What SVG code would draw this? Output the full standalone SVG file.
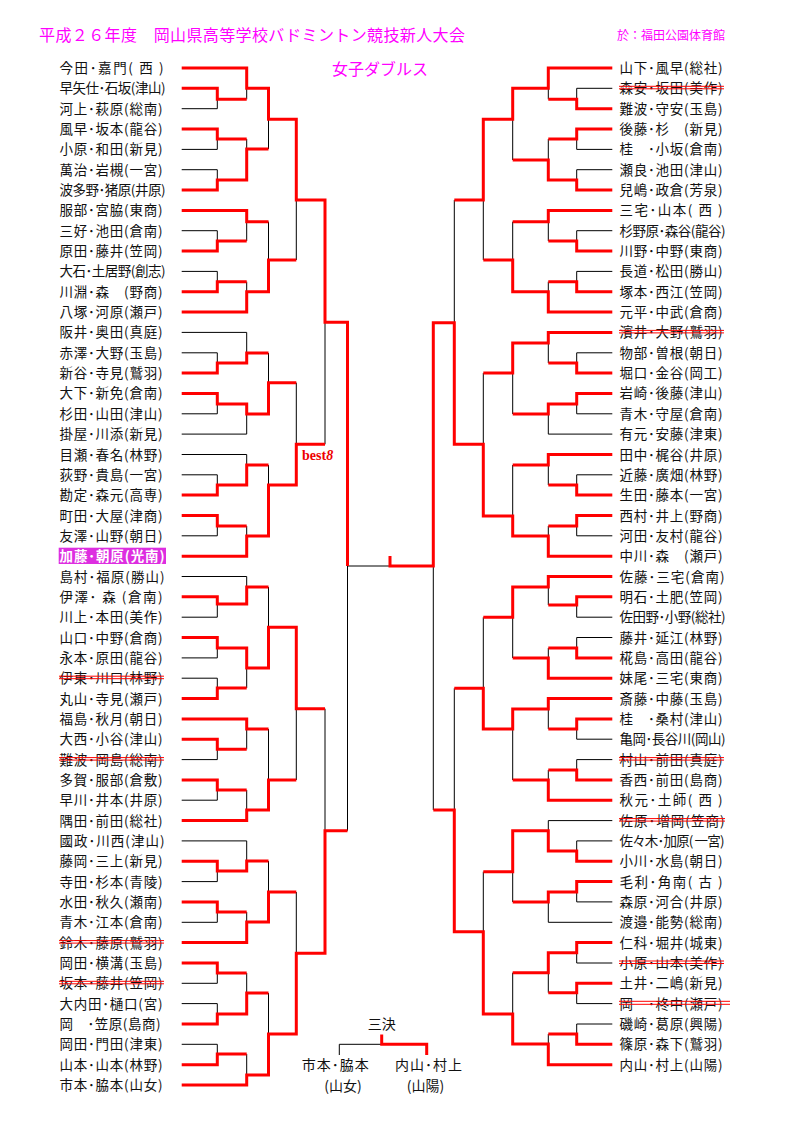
<svg xmlns="http://www.w3.org/2000/svg" width="794" height="1123" viewBox="0 0 794 1123">
<style>
.t{font-family:"Noto Sans CJK JP","Noto Sans CJK SC",sans-serif;font-size:13.5px;fill:#111}
.h{font-family:"Noto Sans CJK JP","Noto Sans CJK SC",sans-serif;fill:#f0f}
.c{font-family:"Noto Sans CJK JP","Noto Sans CJK SC",sans-serif;font-size:14px;fill:#111;text-anchor:middle}
.bk{fill:none;stroke:#000;stroke-width:1}
.rd{fill:none;stroke:#f00;stroke-width:3;stroke-linejoin:miter}
.st{fill:none;stroke:#f00;stroke-width:1}
</style>
<rect width="794" height="1123" fill="#fff"/>
<g id="header">
<text class="h" x="39" y="41" font-size="16" textLength="426">平成２６年度　岡山県高等学校バドミントン競技新人大会</text>
<text class="h" x="617" y="39.5" font-size="12">於：福田公園体育館</text>
<text class="h" x="332" y="74.5" font-size="16">女子ダブルス</text>
<text x="302" y="460" font-family="Liberation Serif,serif" font-weight="bold" font-size="14" fill="#e00">best<tspan font-style="italic">8</tspan></text>
</g>
<g id="connectors">
<path class="bk" d="M181.7,108.7H217.3M181.7,149.4H217.3M181.7,169.7H217.3M181.7,230.7H217.3M181.7,271.4H217.3M181.7,332.4H246.7M181.7,352.8H217.3M181.7,413.8H217.3M181.7,434.1H246.7M181.7,454.5H246.7M181.7,474.8H217.3M181.7,535.8H217.3M181.7,576.5H246.7M181.7,617.2H217.3M181.7,657.9H217.3M181.7,678.2H217.3M181.7,759.6H217.3M181.7,800.2H217.3M181.7,840.9H246.7M181.7,881.6H217.3M181.7,922.3H217.3M181.7,983.3H217.3M181.7,1003.6H217.3M181.7,1044.3H217.3
M217.3,88.3V108.7M217.3,129V149.4M217.3,169.7V190M217.3,230.7V251.1M217.3,271.4V291.7M217.3,352.8V373.1M217.3,393.4V413.8M217.3,474.8V495.1M217.3,515.5V535.8M217.3,596.8V617.2M217.3,637.5V657.9M217.3,678.2V698.5M217.3,739.2V759.6M217.3,779.9V800.2M217.3,861.3V881.6M217.3,901.9V922.3M217.3,963V983.3M217.3,1003.6V1024M217.3,1044.3V1064.7
M246.7,68V99.3M246.7,139V180M246.7,210.4V241M246.7,281.7V312.1M246.7,332.4V363M246.7,404V434.1M246.7,454.5V485M246.7,526V556.2M246.7,576.5V604M246.7,648V688M246.7,718.9V749.3M246.7,790V820.6M246.7,840.9V871M246.7,912V942.6M246.7,973V1014M246.7,1054V1085
M268.5,88.3V149M268.5,221.7V291.7M268.5,353V414M268.5,465V536M268.5,587V668M268.5,729V810M268.5,861V922M268.5,993V1075
M296.3,119.3V260M296.3,382.7V485M296.3,627.3V780M296.3,892V1034
M325,200V444.3M325,708.7V953.3M347.5,322.3V830.7M347.5,566H433.3"/>
<path class="bk" d="M612.3,88.3H576.7M612.3,149.4H576.7M612.3,169.7H576.7M612.3,230.7H576.7M612.3,271.4H576.7M612.3,352.8H576.7M612.3,413.8H576.7M612.3,434.1H548.3M612.3,474.8H576.7M612.3,535.8H576.7M612.3,617.2H576.7M612.3,637.5H576.7M612.3,739.2H576.7M612.3,759.6H576.7M612.3,820.6H548.3M612.3,840.9H576.7M612.3,901.9H576.7M612.3,922.3H548.3M612.3,963H576.7M612.3,1003.6H576.7M612.3,1024H576.7
M576.7,88.3V108.7M576.7,129V149.4M576.7,169.7V190M576.7,230.7V251.1M576.7,271.4V291.7M576.7,352.8V373.1M576.7,393.4V413.8M576.7,474.8V495.1M576.7,515.5V535.8M576.7,596.8V617.2M576.7,637.5V657.9M576.7,718.9V739.2M576.7,759.6V779.9M576.7,840.9V861.3M576.7,881.6V901.9M576.7,942.6V963M576.7,983.3V1003.6M576.7,1024V1044.3
M548.3,68V99.3M548.3,139V180M548.3,210.4V241M548.3,281.7V312.1M548.3,332.4V363M548.3,404V434.1M548.3,454.5V485M548.3,526V556.2M548.3,576.5V605M548.3,648V678.2M548.3,698.5V729M548.3,770V800.2M548.3,820.6V851M548.3,892V922.3M548.3,952.7V992.7M548.3,1034V1064.7
M512.7,88.3V160M512.7,221.7V291.7M512.7,343V414M512.7,465V536M512.7,587V658M512.7,709V780M512.7,830.7V902M512.7,972.7V1044
M483.3,119.3V260M483.3,373V516M483.3,617.3V729M483.3,871.7V1014
M454.3,200V444.3M454.3,688.3V931.7M433.3,322.7V810"/>
<path class="rd" d="M181.7,68H246.7V88.3H268.5V119.3H296.3V200H325V322.3H347.5V566
M181.7,88.3H217.3V99.3H246.7
M181.7,129H217.3V139H246.7
M181.7,190H217.3V180H246.7V149H268.5
M181.7,210.4H246.7V221.7H268.5
M181.7,251.1H217.3V241H246.7
M181.7,291.7H217.3V281.7H246.7
M181.7,312.1H246.7V291.7H268.5V260H296.3
M181.7,373.1H217.3V363H246.7V353H268.5
M181.7,393.4H217.3V404H246.7V414H268.5V382.7H296.3
M181.7,495.1H217.3V485H246.7V465H268.5
M181.7,515.5H217.3V526H246.7
M181.7,556.2H246.7V536H268.5V485H296.3V444.3H325
M181.7,596.8H217.3V604H246.7V587H268.5
M181.7,637.5H217.3V648H246.7V668H268.5V627.3H296.3V708.7H325
M181.7,698.5H217.3V688H246.7
M181.7,718.9H246.7V729H268.5
M181.7,739.2H217.3V749.3H246.7
M181.7,779.9H217.3V790H246.7
M181.7,820.6H246.7V810H268.5V780H296.3
M181.7,861.3H217.3V871H246.7V861H268.5
M181.7,901.9H217.3V912H246.7
M181.7,942.6H246.7V922H268.5V892H296.3
M181.7,963H217.3V973H246.7
M181.7,1024H217.3V1014H246.7V993H268.5
M181.7,1064.7H217.3V1054H246.7
M181.7,1085H246.7V1075H268.5V1034H296.3V953.3H325V830.7H347.5"/>
<path class="rd" d="M612.3,68H548.3V88.3H512.7V119.3H483.3V200H454.3
M612.3,108.7H576.7V99.3H548.3
M612.3,129H576.7V139H548.3
M612.3,190H576.7V180H548.3V160H512.7
M612.3,210.4H548.3V221.7H512.7
M612.3,251.1H576.7V241H548.3
M612.3,291.7H576.7V281.7H548.3
M612.3,312.1H548.3V291.7H512.7V260H483.3
M612.3,332.4H548.3V343H512.7V373H483.3
M612.3,373.1H576.7V363H548.3
M612.3,393.4H576.7V404H548.3V414H512.7
M612.3,454.5H548.3V465H512.7
M612.3,495.1H576.7V485H548.3
M612.3,515.5H576.7V526H548.3
M612.3,556.2H548.3V536H512.7V516H483.3V444.3H454.3V322.7H433.3V566H390V556
M612.3,576.5H548.3V587H512.7V617.3H483.3
M612.3,596.8H576.7V605H548.3
M612.3,657.9H576.7V648H548.3
M612.3,678.2H548.3V658H512.7
M612.3,698.5H548.3V709H512.7V729H483.3V688.3H454.3
M612.3,718.9H576.7V729H548.3
M612.3,779.9H576.7V770H548.3
M612.3,800.2H548.3V780H512.7
M612.3,861.3H576.7V851H548.3V830.7H512.7V871.7H483.3
M612.3,881.6H576.7V892H548.3V902H512.7
M612.3,942.6H576.7V952.7H548.3V972.7H512.7
M612.3,983.3H576.7V992.7H548.3
M612.3,1044.3H576.7V1034H548.3
M612.3,1064.7H548.3V1044H512.7V1014H483.3V931.7H454.3V810H433.3"/>
<path class="bk" d="M339.3,1055V1044.3H381.7"/>
<path class="rd" d="M381.7,1034.5V1044.3H426.7V1055"/>
</g>
<g id="L01"><text class="t" x="59.5" y="73" textLength="104">今田･嘉門( 西 )</text></g>
<g id="L02"><text class="t" x="59.5" y="93.3" textLength="106">早矢仕･石坂(津山)</text></g>
<g id="L03"><text class="t" x="59.5" y="113.7" textLength="103">河上･萩原(総南)</text></g>
<g id="L04"><text class="t" x="59.5" y="134" textLength="103">風早･坂本(龍谷)</text></g>
<g id="L05"><text class="t" x="59.5" y="154.4" textLength="103">小原･和田(新見)</text></g>
<g id="L06"><text class="t" x="59.5" y="174.7" textLength="103">萬治･岩槻(一宮)</text></g>
<g id="L07"><text class="t" x="59.5" y="195" textLength="106">波多野･猪原(井原)</text></g>
<g id="L08"><text class="t" x="59.5" y="215.4" textLength="103">服部･宮脇(東商)</text></g>
<g id="L09"><text class="t" x="59.5" y="235.7" textLength="103">三好･池田(倉南)</text></g>
<g id="L10"><text class="t" x="59.5" y="256.1" textLength="103">原田･藤井(笠岡)</text></g>
<g id="L11"><text class="t" x="59.5" y="276.4" textLength="106">大石･土居野(創志)</text></g>
<g id="L12"><text class="t" x="59.5" y="296.7" textLength="103">川淵･森　(野商)</text></g>
<g id="L13"><text class="t" x="59.5" y="317.1" textLength="103">八塚･河原(瀬戸)</text></g>
<g id="L14"><text class="t" x="59.5" y="337.4" textLength="103">阪井･奥田(真庭)</text></g>
<g id="L15"><text class="t" x="59.5" y="357.8" textLength="103">赤澤･大野(玉島)</text></g>
<g id="L16"><text class="t" x="59.5" y="378.1" textLength="103">新谷･寺見(鷲羽)</text></g>
<g id="L17"><text class="t" x="59.5" y="398.4" textLength="103">大下･新免(倉南)</text></g>
<g id="L18"><text class="t" x="59.5" y="418.8" textLength="103">杉田･山田(津山)</text></g>
<g id="L19"><text class="t" x="59.5" y="439.1" textLength="103">掛屋･川添(新見)</text></g>
<g id="L20"><text class="t" x="59.5" y="459.5" textLength="103">目瀬･春名(林野)</text></g>
<g id="L21"><text class="t" x="59.5" y="479.8" textLength="103">荻野･貴島(一宮)</text></g>
<g id="L22"><text class="t" x="59.5" y="500.1" textLength="103">勘定･森元(高専)</text></g>
<g id="L23"><text class="t" x="59.5" y="520.5" textLength="103">町田･大屋(津商)</text></g>
<g id="L24"><text class="t" x="59.5" y="540.8" textLength="103">友澤･山野(朝日)</text></g>
<g id="L25"><rect x="58.7" y="547.7" width="107.3" height="16.3" fill="#dd2ee0"/><text class="t" x="59.5" y="561.2" textLength="105" style="fill:#fff;font-weight:bold">加藤･朝原(光南)</text></g>
<g id="L26"><text class="t" x="59.5" y="581.5" textLength="105">島村･福原(勝山)</text></g>
<g id="L27"><text class="t" x="59.5" y="601.8" textLength="103">伊澤･ 森 (倉南)</text></g>
<g id="L28"><text class="t" x="59.5" y="622.2" textLength="103">川上･本田(美作)</text></g>
<g id="L29"><text class="t" x="59.5" y="642.5" textLength="103">山口･中野(倉商)</text></g>
<g id="L30"><text class="t" x="59.5" y="662.9" textLength="103">永本･原田(龍谷)</text></g>
<g id="L31"><text class="t" x="59.5" y="683.2" textLength="103">伊東･川口(林野)</text><path class="st" d="M59,676.2H164M59,678.7H164"/></g>
<g id="L32"><text class="t" x="59.5" y="703.5" textLength="103">丸山･寺見(瀬戸)</text></g>
<g id="L33"><text class="t" x="59.5" y="723.9" textLength="103">福島･秋月(朝日)</text></g>
<g id="L34"><text class="t" x="59.5" y="744.2" textLength="103">大西･小谷(津山)</text></g>
<g id="L35"><text class="t" x="59.5" y="764.6" textLength="103">難波･岡島(総南)</text><path class="st" d="M59,757.6H164M59,760.1H164"/></g>
<g id="L36"><text class="t" x="59.5" y="784.9" textLength="103">多賀･服部(倉敷)</text></g>
<g id="L37"><text class="t" x="59.5" y="805.2" textLength="103">早川･井本(井原)</text></g>
<g id="L38"><text class="t" x="59.5" y="825.6" textLength="103">隅田･前田(総社)</text></g>
<g id="L39"><text class="t" x="59.5" y="845.9" textLength="105">國政･川西(津山)</text></g>
<g id="L40"><text class="t" x="59.5" y="866.3" textLength="103">藤岡･三上(新見)</text></g>
<g id="L41"><text class="t" x="59.5" y="886.6" textLength="103">寺田･杉本(青陵)</text></g>
<g id="L42"><text class="t" x="59.5" y="906.9" textLength="103">水田･秋久(瀬南)</text></g>
<g id="L43"><text class="t" x="59.5" y="927.3" textLength="103">青木･江本(倉南)</text></g>
<g id="L44"><text class="t" x="59.5" y="947.6" textLength="103">鈴木･藤原(鷲羽)</text><path class="st" d="M59,940.6H164M59,943.1H164"/></g>
<g id="L45"><text class="t" x="59.5" y="968" textLength="103">岡田･横溝(玉島)</text></g>
<g id="L46"><text class="t" x="59.5" y="988.3" textLength="103">坂本･藤井(笠岡)</text><path class="st" d="M59,981.3H164M59,983.8H164"/></g>
<g id="L47"><text class="t" x="59.5" y="1008.6" textLength="103">大内田･樋口(宮)</text></g>
<g id="L48"><text class="t" x="59.5" y="1029" textLength="101">岡　･笠原(島商)</text></g>
<g id="L49"><text class="t" x="59.5" y="1049.3" textLength="103">岡田･門田(津東)</text></g>
<g id="L50"><text class="t" x="59.5" y="1069.7" textLength="103">山本･山本(林野)</text></g>
<g id="L51"><text class="t" x="59.5" y="1090" textLength="103">市本･脇本(山女)</text></g>
<g id="R01"><text class="t" x="619.5" y="73" textLength="103">山下･風早(総社)</text></g>
<g id="R02"><text class="t" x="619.5" y="93.3" textLength="103">森安･坂田(美作)</text><path class="st" d="M619,86.3H724M619,88.8H724"/></g>
<g id="R03"><text class="t" x="619.5" y="113.7" textLength="103">難波･守安(玉島)</text></g>
<g id="R04"><text class="t" x="619.5" y="134" textLength="103">後藤･杉　(新見)</text></g>
<g id="R05"><text class="t" x="619.5" y="154.4" textLength="103">桂　･小坂(倉南)</text></g>
<g id="R06"><text class="t" x="619.5" y="174.7" textLength="103">瀬良･池田(津山)</text></g>
<g id="R07"><text class="t" x="619.5" y="195" textLength="103">兒嶋･政倉(芳泉)</text></g>
<g id="R08"><text class="t" x="619.5" y="215.4" textLength="103">三宅･山本( 西 )</text></g>
<g id="R09"><text class="t" x="619.5" y="235.7" textLength="106">杉野原･森谷(龍谷)</text></g>
<g id="R10"><text class="t" x="619.5" y="256.1" textLength="103">川野･中野(東商)</text></g>
<g id="R11"><text class="t" x="619.5" y="276.4" textLength="103">長道･松田(勝山)</text></g>
<g id="R12"><text class="t" x="619.5" y="296.7" textLength="103">塚本･西江(笠岡)</text></g>
<g id="R13"><text class="t" x="619.5" y="317.1" textLength="103">元平･中武(倉商)</text></g>
<g id="R14"><text class="t" x="619.5" y="337.4" textLength="103">濱井･大野(鷲羽)</text><path class="st" d="M619,330.4H724M619,332.9H724"/></g>
<g id="R15"><text class="t" x="619.5" y="357.8" textLength="103">物部･曽根(朝日)</text></g>
<g id="R16"><text class="t" x="619.5" y="378.1" textLength="103">堀口･金谷(岡工)</text></g>
<g id="R17"><text class="t" x="619.5" y="398.4" textLength="103">岩崎･後藤(津山)</text></g>
<g id="R18"><text class="t" x="619.5" y="418.8" textLength="103">青木･守屋(倉南)</text></g>
<g id="R19"><text class="t" x="619.5" y="439.1" textLength="103">有元･安藤(津東)</text></g>
<g id="R20"><text class="t" x="619.5" y="459.5" textLength="103">田中･梶谷(井原)</text></g>
<g id="R21"><text class="t" x="619.5" y="479.8" textLength="103">近藤･廣畑(林野)</text></g>
<g id="R22"><text class="t" x="619.5" y="500.1" textLength="103">生田･藤本(一宮)</text></g>
<g id="R23"><text class="t" x="619.5" y="520.5" textLength="103">西村･井上(野商)</text></g>
<g id="R24"><text class="t" x="619.5" y="540.8" textLength="103">河田･友村(龍谷)</text></g>
<g id="R25"><text class="t" x="619.5" y="561.2" textLength="103">中川･森　(瀬戸)</text></g>
<g id="R26"><text class="t" x="619.5" y="581.5" textLength="105">佐藤･三宅(倉南)</text></g>
<g id="R27"><text class="t" x="619.5" y="601.8" textLength="103">明石･土肥(笠岡)</text></g>
<g id="R28"><text class="t" x="619.5" y="622.2" textLength="106">佐田野･小野(総社)</text></g>
<g id="R29"><text class="t" x="619.5" y="642.5" textLength="103">藤井･延江(林野)</text></g>
<g id="R30"><text class="t" x="619.5" y="662.9" textLength="103">椛島･高田(龍谷)</text></g>
<g id="R31"><text class="t" x="619.5" y="683.2" textLength="103">妹尾･三宅(東商)</text></g>
<g id="R32"><text class="t" x="619.5" y="703.5" textLength="103">斎藤･中藤(玉島)</text></g>
<g id="R33"><text class="t" x="619.5" y="723.9" textLength="103">桂　･桑村(津山)</text></g>
<g id="R34"><text class="t" x="619.5" y="744.2" textLength="106">亀岡･長谷川(岡山)</text></g>
<g id="R35"><text class="t" x="619.5" y="764.6" textLength="103">村山･前田(真庭)</text><path class="st" d="M619,757.6H724M619,760.1H724"/></g>
<g id="R36"><text class="t" x="619.5" y="784.9" textLength="103">香西･前田(島商)</text></g>
<g id="R37"><text class="t" x="619.5" y="805.2" textLength="103">秋元･土師( 西 )</text></g>
<g id="R38"><text class="t" x="619.5" y="825.6" textLength="105">佐原･増岡(笠商)</text><path class="st" d="M619,818.6H725M619,821.1H725"/></g>
<g id="R39"><text class="t" x="619.5" y="845.9" textLength="105">佐々木･加原( 一宮)</text></g>
<g id="R40"><text class="t" x="619.5" y="866.3" textLength="103">小川･水島(朝日)</text></g>
<g id="R41"><text class="t" x="619.5" y="886.6" textLength="103">毛利･角南( 古 )</text></g>
<g id="R42"><text class="t" x="619.5" y="906.9" textLength="103">森原･河合(井原)</text></g>
<g id="R43"><text class="t" x="619.5" y="927.3" textLength="103">渡邉･能勢(総南)</text></g>
<g id="R44"><text class="t" x="619.5" y="947.6" textLength="103">仁科･堀井(城東)</text></g>
<g id="R45"><text class="t" x="619.5" y="968" textLength="103">小原･山本(美作)</text><path class="st" d="M619,961H724M619,963.5H724"/></g>
<g id="R46"><text class="t" x="619.5" y="988.3" textLength="103">土井･二嶋(新見)</text></g>
<g id="R47"><text class="t" x="619.5" y="1008.6" textLength="103">岡　･柊中(瀬戸)</text><path class="st" d="M619,1001.3H730M619,1004.3H730"/></g>
<g id="R48"><text class="t" x="619.5" y="1029" textLength="103">磯崎･葛原(興陽)</text></g>
<g id="R49"><text class="t" x="619.5" y="1049.3" textLength="103">篠原･森下(鷲羽)</text></g>
<g id="R50"><text class="t" x="619.5" y="1069.7" textLength="103">内山･村上(山陽)</text></g>
<g id="third">
<text class="c" x="381.7" y="1029">三決</text>
<text class="c" x="335.8" y="1070" letter-spacing="1">市本･脇本</text>
<text class="c" x="343" y="1091">(山女)</text>
<text class="c" x="429" y="1070" letter-spacing="1">内山･村上</text>
<text class="c" x="425.5" y="1091">(山陽)</text>
</g>
</svg>
